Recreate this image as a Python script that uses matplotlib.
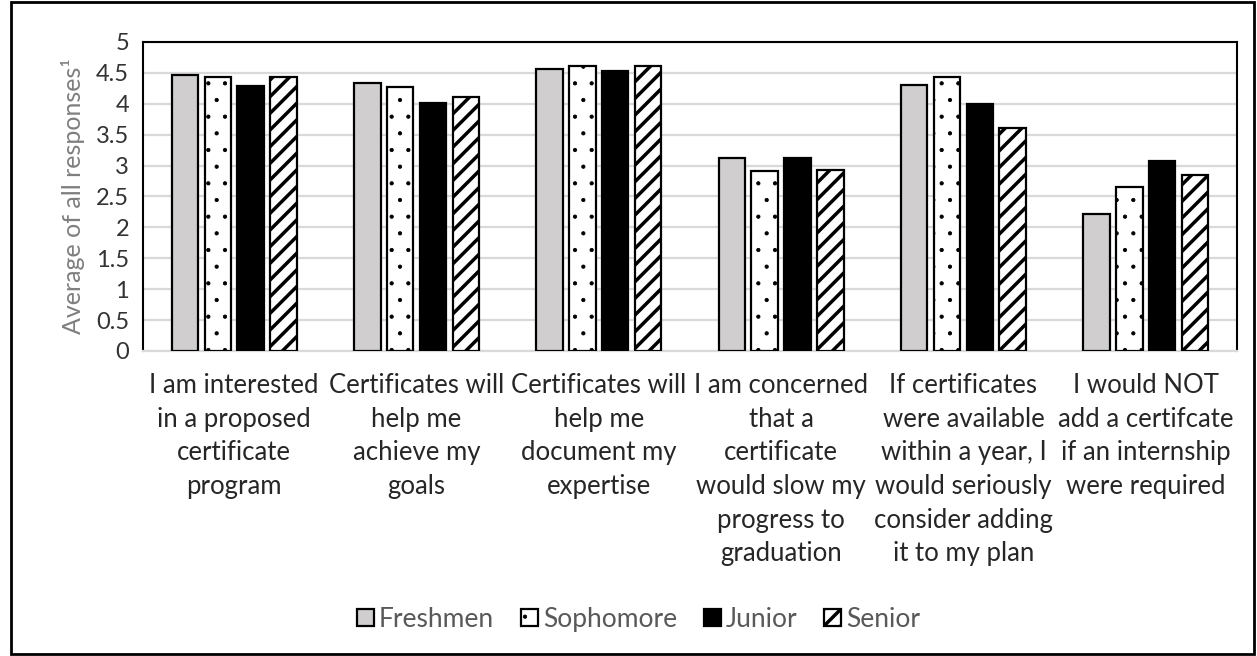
import numpy as np
import matplotlib
matplotlib.use("Agg")
import matplotlib.pyplot as plt
from matplotlib.patches import Rectangle

plt.rcParams['font.family'] = ['Lato', 'DejaVu Sans']
plt.rcParams['hatch.linewidth'] = 2.5

categories = [
    "I am interested\nin a proposed\ncertificate\nprogram",
    "Certificates will\nhelp me\nachieve my\ngoals",
    "Certificates will\nhelp me\ndocument my\nexpertise",
    "I am concerned\nthat a\ncertificate\nwould slow my\nprogress to\ngraduation",
    "If certificates\nwere available\nwithin a year, I\nwould seriously\nconsider adding\nit to my plan",
    "I would NOT\nadd a certifcate\nif an internship\nwere required",
]
series_names = ["Freshmen", "Sophomore", "Junior", "Senior"]
freshmen = [4.47, 4.33, 4.57, 3.13, 4.31, 2.22]
sophomore = [4.44, 4.27, 4.61, 2.91, 4.44, 2.65]
junior = [4.28, 4.02, 4.53, 3.13, 3.99, 3.08]
senior = [4.44, 4.11, 4.61, 2.93, 3.60, 2.84]


def thin_hatch(patch, lw):
    # make the dot hatch thinner than the stripe hatch
    if hasattr(patch, "_hatch_linewidth"):
        patch._hatch_linewidth = lw
    orig = patch.draw

    def draw(renderer):
        with plt.rc_context({"hatch.linewidth": lw}):
            orig(renderer)
    patch.draw = draw


fig = plt.figure(figsize=(12.57, 6.56), dpi=100)
ax = fig.add_axes([0.1138, 0.465, 0.8702, 0.471])

styles = [
    dict(color="#d0cece", hatch=None),
    dict(color="white", hatch="."),
    dict(color="black", hatch=None),
    dict(color="white", hatch="//"),
]

x = np.arange(len(categories))
pitch = 0.18
width = 0.145
all_vals = [freshmen, sophomore, junior, senior]
for i, (vals, st, name) in enumerate(zip(all_vals, styles, series_names)):
    bars = ax.bar(x + (i - 1.5) * pitch, vals, width, color=st["color"],
                  edgecolor="black", linewidth=1.6, hatch=st["hatch"],
                  label=name, zorder=3)
    if st["hatch"] == ".":
        for b in bars:
            thin_hatch(b, 0.6)

ax.set_xlim(-0.5, len(categories) - 0.5)
ax.set_ylim(0, 5)
ax.set_yticks(np.arange(0, 5.01, 0.5))
ax.set_yticklabels(["0", "0.5", "1", "1.5", "2", "2.5", "3", "3.5", "4", "4.5", "5"])
ax.yaxis.grid(True, color="#d9d9d9", linewidth=1.6, zorder=0)
ax.set_axisbelow(True)
ax.tick_params(axis="y", length=0, labelsize=17, colors="#333333", pad=10)
ax.tick_params(axis="x", length=0, pad=16)
ax.set_xticks(x)
ax.set_xticklabels(categories, fontsize=18.5, color="#262626", linespacing=1.43)
ax.set_ylabel("Average of all responses¹", fontsize=18, color="#7f7f7f", labelpad=8)

for side in ["top", "left", "right"]:
    ax.spines[side].set_color("black")
    ax.spines[side].set_linewidth(1.5)
ax.spines["bottom"].set_color("#d9d9d9")
ax.spines["bottom"].set_linewidth(1.6)

leg = fig.legend(loc="center", bbox_to_anchor=(0.508, 0.056), ncol=4, frameon=False,
                 fontsize=19, handlelength=0.65, handleheight=0.65, handletextpad=0.2,
                 columnspacing=1.0)
for t in leg.get_texts():
    t.set_color("#595959")
for p in leg.get_patches():
    if p.get_hatch() == ".":
        thin_hatch(p, 0.6)

fig.patches.append(Rectangle((0.0088, 0.003), 0.989, 0.994, transform=fig.transFigure,
                             fill=False, edgecolor="black", linewidth=2))

fig.savefig("out.png", dpi=100)
